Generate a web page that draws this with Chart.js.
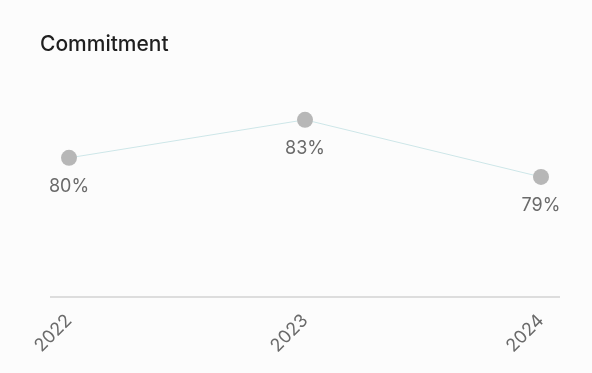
<!DOCTYPE html>
<html>
<head>
<meta charset="utf-8">
<script src="https://cdn.jsdelivr.net/npm/chart.js@4"></script>
<style>
  html, body { margin: 0; padding: 0; background: #fcfcfc; }
  #wrap { width: 592px; height: 373px; position: relative; }
</style>
</head>
<body>
<div id="wrap"><canvas id="commitChart"></canvas></div>
<script>
// values (labels show the rounded figure)
const years = ['2022', '2023', '2024'];
const commitment = [80.4, 83.0, 79.1];
const titleText = 'Commitment';

const FONT = 'Inter, "Open Sans", sans-serif';

// title, baseline and the value labels under each point
const decor = {
    id: 'decor',
    beforeDatasetsDraw(chart) {
        const { ctx, chartArea } = chart;
        ctx.save();
        ctx.strokeStyle = '#dddddd';
        ctx.lineWidth = 2;
        ctx.beginPath();
        ctx.moveTo(chartArea.left - 19, chartArea.bottom);
        ctx.lineTo(chartArea.right + 19, chartArea.bottom);
        ctx.stroke();
        ctx.restore();
    },
    afterDatasetsDraw(chart) {
        const { ctx } = chart;
        ctx.save();
        ctx.fillStyle = '#1f1f1f';
        ctx.font = '500 21px ' + FONT;
        ctx.textAlign = 'left';
        ctx.textBaseline = 'middle';
        ctx.fillText(titleText, 40, 45);

        ctx.fillStyle = '#6a6a6a';
        ctx.font = '18px ' + FONT;
        ctx.textAlign = 'center';
        chart.getDatasetMeta(0).data.forEach((pt, i) => {
            ctx.fillText(Math.round(commitment[i]) + '%', pt.x, pt.y + 29);
        });
        ctx.restore();
    }
};

new Chart(document.getElementById('commitChart'), {
    type: 'line',
    data: {
        labels: years,
        datasets: [{
            data: commitment,
            borderColor: '#cde6e8',
            borderWidth: 1,
            pointBackgroundColor: '#b7b7b7',
            pointBorderWidth: 0,
            pointRadius: 8,
            pointHoverRadius: 8,
            tension: 0
        }]
    },
    options: {
        responsive: true,
        maintainAspectRatio: false,
        animation: false,
        layout: { padding: { left: 69, right: 51, top: 70, bottom: 0 } },
        plugins: { legend: { display: false }, tooltip: { enabled: false } },
        scales: {
            x: {
                offset: false,
                grid: { display: false },
                border: { display: false },
                ticks: {
                    color: '#6a6a6a',
                    font: { family: FONT, size: 18 },
                    minRotation: 45,
                    maxRotation: 45,
                    padding: 5
                },
                afterFit(scale) {
                    scale.paddingLeft = 0;
                    scale.paddingRight = 0;
                    scale.height = 76;
                }
            },
            y: {
                display: false,
                min: 70.9,
                max: 86.4
            }
        }
    },
    plugins: [decor]
});
</script>
</body>
</html>
